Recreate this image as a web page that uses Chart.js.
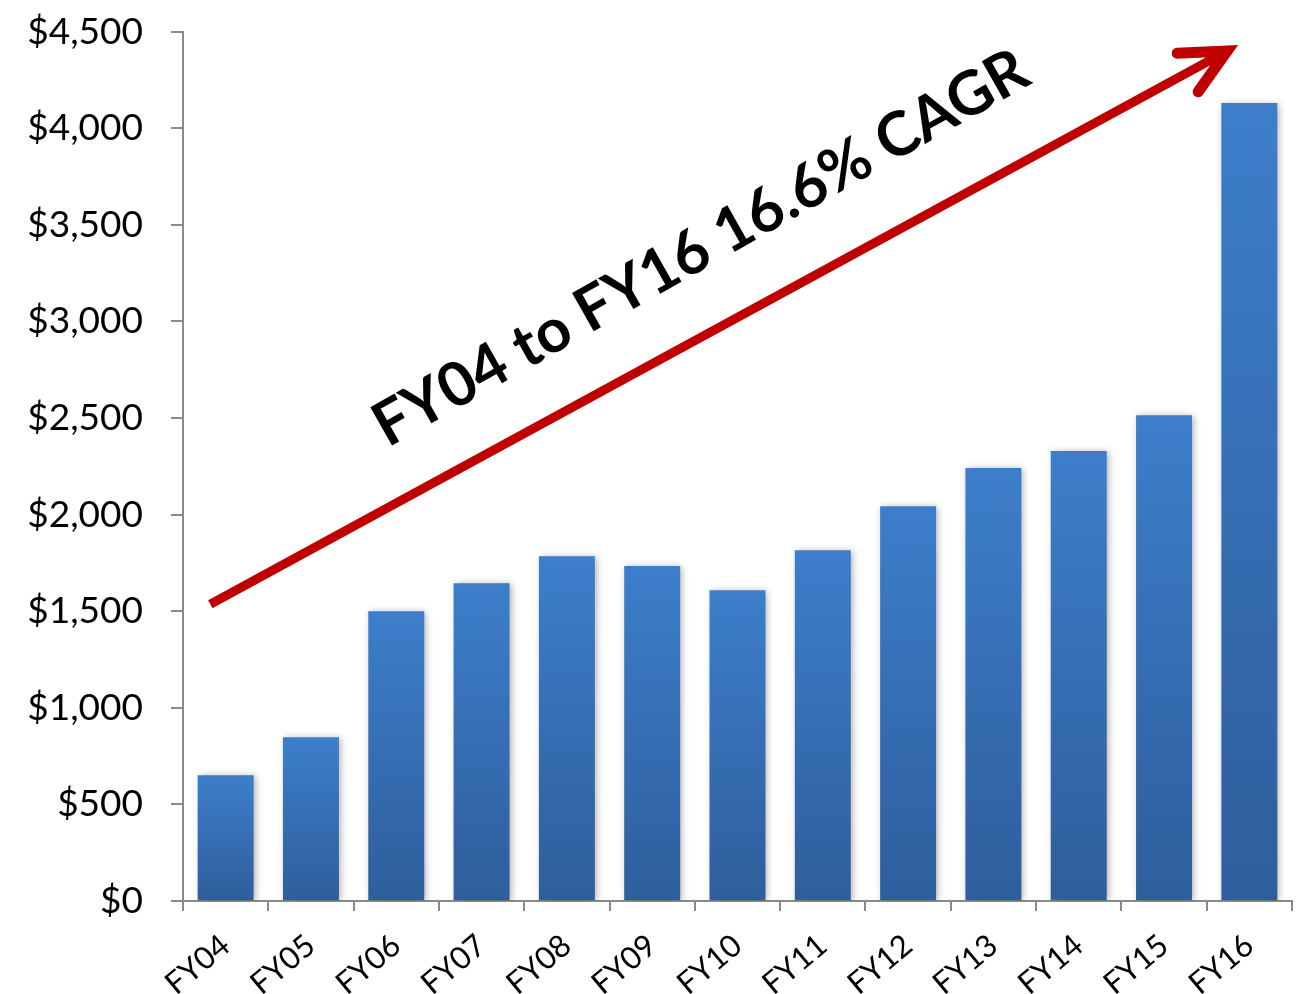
<!DOCTYPE html>
<html>
<head>
<meta charset="utf-8">
<title>Revenue FY04–FY16</title>
<script src="https://cdn.jsdelivr.net/npm/chart.js@4.4.1/dist/chart.umd.min.js"></script>
<style>
  html, body { margin: 0; padding: 0; background: #ffffff; }
  #wrap { width: 1297px; height: 994px; position: relative; }
</style>
</head>
<body>
<div id="wrap"><canvas id="chart" width="1297" height="994"></canvas></div>
<script>
// Fiscal years and revenue ($ millions)
const categories = ['FY04', 'FY05', 'FY06', 'FY07', 'FY08', 'FY09', 'FY10',
                    'FY11', 'FY12', 'FY13', 'FY14', 'FY15', 'FY16'];
const revenue = [651, 848, 1500, 1645, 1785, 1734, 1609, 1816, 2044, 2241, 2329, 2515, 4131];

// Value axis range and tick step
const yMin = 0;
const yMax = 4500;
const yStep = 500;

// Growth callout: arrow ends and label anchor, in axis units (category index, $)
const calloutText = 'FY04 to FY16 16.6% CAGR';
const arrowFrom = { x: -0.18, y: 1536 };
const arrowTo = { x: 11.74, y: 4400 };
const textAnchor = { x: 1.9, y: 2345 };

const AXIS_GREY = '#8a8a8a';
const BAR_TOP = '#3d7ecb';
const BAR_BOTTOM = '#2e5e9c';

function barGradient(context) {
  const chart = context.chart;
  const area = chart.chartArea;
  if (!area || context.type !== 'data') return BAR_TOP;
  const yScale = chart.scales.y;
  const top = yScale.getPixelForValue(context.parsed.y);
  const bottom = yScale.getPixelForValue(0);
  if (!isFinite(top) || !isFinite(bottom) || top === bottom) return BAR_TOP;
  const g = chart.ctx.createLinearGradient(0, top, 0, bottom);
  g.addColorStop(0, BAR_TOP);
  g.addColorStop(1, BAR_BOTTOM);
  return g;
}

// Soft drop shadow under the bars
const barShadow = {
  id: 'barShadow',
  beforeDatasetDraw(chart) {
    const c = chart.ctx;
    c.save();
    c.shadowColor = 'rgba(0,0,0,0.32)';
    c.shadowBlur = 7;
    c.shadowOffsetX = 2;
    c.shadowOffsetY = 1;
  },
  afterDatasetDraw(chart) {
    chart.ctx.restore();
  }
};

// Red growth arrow with the CAGR label above it
const growthCallout = {
  id: 'growthCallout',
  afterDatasetsDraw(chart) {
    const c = chart.ctx;
    const xs = chart.scales.x, ys = chart.scales.y;
    const x0 = xs.getPixelForValue(arrowFrom.x), y0 = ys.getPixelForValue(arrowFrom.y);
    const x1 = xs.getPixelForValue(arrowTo.x), y1 = ys.getPixelForValue(arrowTo.y);
    const ang = Math.atan2(y1 - y0, x1 - x0);

    c.save();
    c.strokeStyle = '#c00000';
    // shaft
    c.lineWidth = 9;
    c.lineCap = 'butt';
    c.beginPath();
    c.moveTo(x0, y0);
    c.lineTo(x1, y1);
    c.stroke();
    // open arrow head
    const armLen = 50, spread = 26 * Math.PI / 180;
    const back = ang + Math.PI;
    c.lineWidth = 11;
    c.lineCap = 'round';
    c.lineJoin = 'miter';
    c.miterLimit = 10;
    c.beginPath();
    c.moveTo(x1 + armLen * Math.cos(back - spread), y1 + armLen * Math.sin(back - spread));
    c.lineTo(x1, y1);
    c.lineTo(x1 + armLen * Math.cos(back + spread), y1 + armLen * Math.sin(back + spread));
    c.stroke();
    c.restore();

    // label
    const tx = xs.getPixelForValue(textAnchor.x), ty = ys.getPixelForValue(textAnchor.y);
    c.save();
    c.font = 'bold 60px Lato';
    const w = c.measureText(calloutText).width;
    const size = 60 * 742 / w;
    c.font = 'bold ' + size.toFixed(1) + 'px Lato';
    c.translate(tx, ty);
    c.rotate(-29.5 * Math.PI / 180);
    c.fillStyle = '#000000';
    c.textAlign = 'left';
    c.textBaseline = 'alphabetic';
    c.fillText(calloutText, 0, 0);
    c.restore();
  }
};

new Chart(document.getElementById('chart'), {
  type: 'bar',
  data: {
    labels: categories,
    datasets: [{
      label: 'Revenue',
      data: revenue,
      backgroundColor: barGradient,
      borderWidth: 0,
      barPercentage: 0.656,
      categoryPercentage: 1.0
    }]
  },
  options: {
    responsive: false,
    animation: false,
    devicePixelRatio: 1,
    layout: { padding: { top: 31.7, right: 5, left: 0, bottom: 0 } },
    plugins: {
      legend: { display: false },
      tooltip: { enabled: false },
      title: { display: false }
    },
    scales: {
      x: {
        grid: {
          offset: true,
          drawOnChartArea: false,
          drawTicks: true,
          tickLength: 10,
          tickWidth: 2,
          color: AXIS_GREY,
          lineWidth: 2
        },
        border: { display: true, color: AXIS_GREY, width: 2 },
        ticks: {
          color: '#000000',
          font: { family: 'Lato', size: 31 },
          minRotation: 40,
          maxRotation: 40,
          padding: 16,
          autoSkip: false
        },
        afterFit(scale) {
          scale.height = 93;
          scale.paddingLeft = 0;
          scale.paddingRight = 0;
        }
      },
      y: {
        min: yMin,
        max: yMax,
        grid: {
          drawOnChartArea: false,
          drawTicks: true,
          tickLength: 12,
          tickWidth: 2,
          color: AXIS_GREY,
          lineWidth: 2
        },
        border: { display: true, color: AXIS_GREY, width: 2 },
        ticks: {
          stepSize: yStep,
          color: '#000000',
          font: { family: 'Lato', size: 37 },
          padding: 28,
          callback: (v) => '$' + Number(v).toLocaleString('en-US')
        },
        afterFit(scale) {
          scale.width = 183;
          scale.paddingTop = 0;
          scale.paddingBottom = 0;
        }
      }
    }
  },
  plugins: [barShadow, growthCallout]
});
</script>
</body>
</html>
